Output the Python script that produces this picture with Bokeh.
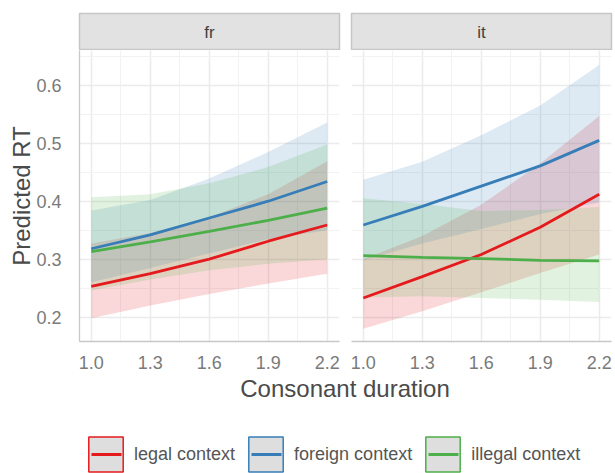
from bokeh.plotting import figure
from bokeh.layouts import row, column
from bokeh.models import (Range1d, FixedTicker, PrintfTickFormatter, Grid,
                          Legend, LegendItem, Label)
from bokeh.embed import file_html
from bokeh.resources import INLINE
from bokeh.core.properties import value

FONT = "Liberation Sans"

# ---------------- data ----------------
facets = ["fr", "it"]
contexts = ["legal context", "foreign context", "illegal context"]
colors = ["#E41A1C", "#377EB8", "#4DAF4A"]

duration = [1.0, 1.3, 1.6, 1.9, 2.2]

# fr
fr_legal_fit = [0.253, 0.275, 0.300, 0.331, 0.359]
fr_legal_lo = [0.198, 0.220, 0.240, 0.258, 0.275]
fr_legal_hi = [0.327, 0.345, 0.372, 0.412, 0.469]
fr_foreign_fit = [0.318, 0.342, 0.371, 0.400, 0.434]
fr_foreign_lo = [0.260, 0.285, 0.310, 0.335, 0.350]
fr_foreign_hi = [0.384, 0.402, 0.439, 0.485, 0.536]
fr_illegal_fit = [0.313, 0.330, 0.348, 0.367, 0.388]
fr_illegal_lo = [0.246, 0.265, 0.281, 0.292, 0.300]
fr_illegal_hi = [0.407, 0.412, 0.431, 0.459, 0.498]

# it
it_legal_fit = [0.233, 0.270, 0.308, 0.355, 0.412]
it_legal_lo = [0.180, 0.210, 0.243, 0.276, 0.308]
it_legal_hi = [0.300, 0.340, 0.394, 0.465, 0.547]
it_foreign_fit = [0.359, 0.391, 0.426, 0.461, 0.505]
it_foreign_lo = [0.298, 0.327, 0.352, 0.378, 0.398]
it_foreign_hi = [0.437, 0.468, 0.514, 0.565, 0.635]
it_illegal_fit = [0.306, 0.303, 0.301, 0.298, 0.297]
it_illegal_lo = [0.234, 0.236, 0.233, 0.230, 0.226]
it_illegal_hi = [0.405, 0.395, 0.383, 0.385, 0.390]

x_ticks = [1.0, 1.3, 1.6, 1.9, 2.2]
x_minor = [1.15, 1.45, 1.75, 2.05]
y_ticks = [0.2, 0.3, 0.4, 0.5, 0.6]
y_minor = [0.15, 0.25, 0.35, 0.45, 0.55, 0.65]

series = {
    "fr": [(fr_legal_fit, fr_legal_lo, fr_legal_hi),
           (fr_foreign_fit, fr_foreign_lo, fr_foreign_hi),
           (fr_illegal_fit, fr_illegal_lo, fr_illegal_hi)],
    "it": [(it_legal_fit, it_legal_lo, it_legal_hi),
           (it_foreign_fit, it_foreign_lo, it_foreign_hi),
           (it_illegal_fit, it_illegal_lo, it_illegal_hi)],
}

X_RANGE = (0.94, 2.2625)
Y_RANGE = (0.158, 0.66)

GRID_MAJOR = "#ebebeb"
GRID_MINOR = "#f2f2f2"
AXIS_LINE = "#c8c8c8"
TICK_TEXT = "#7a7a7a"
TITLE_TEXT = "#4a4a4a"

LEFT_W, RIGHT_W = 343, 272
LEFT_BORDER, RIGHT_BORDER = 79, 8


def make_strip(label, left):
    s = figure(width=LEFT_W if left else RIGHT_W, height=50,
               x_range=Range1d(0, 1), y_range=Range1d(0, 1),
               x_axis_location=None, y_axis_location=None,
               min_border_left=LEFT_BORDER if left else RIGHT_BORDER,
               min_border_right=4, min_border_top=13, min_border_bottom=0,
               toolbar_location=None, output_backend="svg", title=None)
    s.grid.visible = False
    s.background_fill_color = "#e2e2e2"
    s.border_fill_color = "white"
    s.outline_line_color = "#c6c6c6"
    s.outline_line_width = 1.5
    s.text(x=[0.5], y=[0.5], text=[label], text_align="center",
           text_baseline="middle", text_font=value(FONT),
           text_font_size="17px", text_color="#404040")
    return s


def make_panel(facet, left):
    p = figure(width=LEFT_W if left else RIGHT_W, height=321,
               x_range=Range1d(*X_RANGE), y_range=Range1d(*Y_RANGE),
               y_axis_location="left" if left else None,
               min_border_left=LEFT_BORDER if left else RIGHT_BORDER,
               min_border_right=4, min_border_top=0, min_border_bottom=30,
               toolbar_location=None, output_backend="svg", title=None)
    p.background_fill_color = "white"
    p.border_fill_color = "white"
    p.outline_line_color = None

    xt = FixedTicker(ticks=x_ticks, minor_ticks=x_minor)
    yt = FixedTicker(ticks=y_ticks, minor_ticks=y_minor)

    p.xaxis.ticker = xt
    p.xaxis.formatter = PrintfTickFormatter(format="%.1f")
    p.xgrid.ticker = xt
    if len(p.ygrid) == 0:
        p.add_layout(Grid(dimension=1, ticker=yt))
    else:
        p.ygrid.ticker = yt
    if left:
        p.yaxis.ticker = yt
        p.yaxis.formatter = PrintfTickFormatter(format="%.1f")
        p.yaxis.axis_label = "Predicted RT"
        p.yaxis.axis_label_text_font = FONT
        p.yaxis.axis_label_text_font_size = "24px"
        p.yaxis.axis_label_text_font_style = "normal"
        p.yaxis.axis_label_text_color = TITLE_TEXT
        p.yaxis.axis_label_standoff = -2
        p.yaxis.major_label_standoff = 12

    for ax in p.axis:
        ax.axis_line_color = AXIS_LINE
        ax.axis_line_width = 1.3
        ax.major_tick_line_color = None
        ax.minor_tick_line_color = None
        ax.major_label_text_font = FONT
        ax.major_label_text_font_size = "18px"
        ax.major_label_text_color = TICK_TEXT
    p.xaxis.major_label_standoff = 8

    for g in p.grid:
        g.grid_line_color = GRID_MAJOR
        g.grid_line_width = 1.5
        g.minor_grid_line_color = GRID_MINOR
        g.minor_grid_line_width = 1

    for (fit, lo, hi), c in zip(series[facet], colors):
        p.varea(x=duration, y1=lo, y2=hi, fill_color=c, fill_alpha=0.17)
    for (fit, lo, hi), c in zip(series[facet], colors):
        p.line(x=duration, y=fit, line_color=c, line_width=2.8)
    return p


strip_fr = make_strip(facets[0], True)
strip_it = make_strip(facets[1], False)
panel_fr = make_panel(facets[0], True)
panel_it = make_panel(facets[1], False)

# ---------------- bottom: x title + legend ----------------
b = figure(width=LEFT_W + RIGHT_W, height=102,
           x_range=Range1d(0, 1), y_range=Range1d(0, 1),
           x_axis_location=None, y_axis_location=None,
           min_border=0, min_border_left=0, min_border_right=0,
           min_border_top=0, min_border_bottom=0,
           toolbar_location=None, output_backend="svg", title=None)
b.grid.visible = False
b.outline_line_color = None
b.background_fill_color = "white"
b.border_fill_color = "white"

b.add_layout(Label(x=344.5, y=85, x_units="screen", y_units="screen",
                   text="Consonant duration", text_align="center",
                   text_baseline="middle", text_font=FONT,
                   text_font_size="24px", text_color=TITLE_TEXT))

nan = float("nan")
items = []
for name, c in zip(contexts, colors):
    q = b.quad(left=[nan], right=[nan], top=[nan], bottom=[nan],
               fill_color="#dedede", line_color=c, line_width=1.5)
    ln = b.line(x=[nan], y=[nan], line_color=c, line_width=2.8,
                line_dash="0 7 30 100")
    items.append(LegendItem(label=value(name), renderers=[q, ln]))

leg = Legend(items=items, orientation="horizontal", location=(84, -3),
             glyph_width=43, glyph_height=44, label_standoff=7, spacing=9,
             padding=0, margin=0, border_line_color=None,
             background_fill_alpha=0, label_text_font=FONT,
             label_text_font_size="18px", label_text_color="#555555")
b.add_layout(leg)

layout = column(row(column(strip_fr, panel_fr), column(strip_it, panel_it)), b)

open("out.html", "w").write(file_html(layout, INLINE))
